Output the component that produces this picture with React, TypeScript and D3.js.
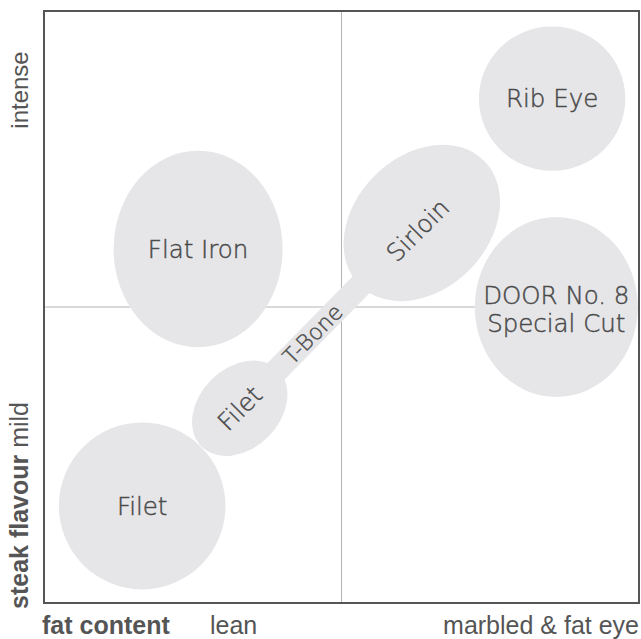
import * as d3 from "d3";
import { useEffect, useRef } from "react";

// steak cuts, placed by fat content (x) and flavour (y), 0..10 scale
const cutNames = ["Rib Eye", "Flat Iron", "Sirloin", "DOOR No. 8|Special Cut", "Filet", "Filet"];
const fatValues = [8.54, 2.59, 6.35, 8.61, 3.29, 1.65];
const flavourValues = [8.52, 5.98, 6.42, 5.0, 3.29, 1.64];
const spreadFat = [1.23, 1.42, 1.48, 1.37, 0.91, 1.4];
const spreadFlavour = [1.22, 1.66, 1.13, 1.52, 0.68, 1.41];
const tilt = [0, 0, -45, 0, -45, 0];
// small nudge of the label from the centre of its shape
const labelShiftFat = [0, 0, -0.07, 0, 0, 0];
const labelShiftFlavour = [0, 0, -0.12, 0, 0, 0];

// T-Bone joins the small filet and the sirloin
const bridgeName = "T-Bone";
const bridgeFrom = 4;
const bridgeTo = 2;
const bridgeLabelAt = 0.4;

const xAxisTitle = "fat content";
const xAxisEnds = ["lean", "marbled & fat eye"];
const yAxisTitle = "steak flavour";
const yAxisEnds = ["mild", "intense"];

const W = 641;
const H = 639;

function SteakChart() {
    const ref = useRef<SVGSVGElement>(null);

    useEffect(() => {
        const svg = d3.select(ref.current);
        svg.selectAll("*").remove();

        const margin = { top: 11, right: 2, bottom: 36, left: 44 };
        const x = d3.scaleLinear().domain([0, 10]).range([margin.left, W - margin.right]);
        const y = d3.scaleLinear().domain([0, 10]).range([H - margin.bottom, margin.top]);
        const fill = "#e6e6e8";
        const textColor = "#4a4a4a";
        const labelFont = "'DejaVu Sans', Verdana, sans-serif";
        const axisFont = "'Liberation Sans', Arial, sans-serif";

        // quadrant lines
        svg.append("line")
            .attr("x1", x(5)).attr("x2", x(5))
            .attr("y1", y(0)).attr("y2", y(10))
            .attr("stroke", "#b4b4b4").attr("stroke-width", 1);
        svg.append("line")
            .attr("x1", x(0)).attr("x2", x(10))
            .attr("y1", y(5)).attr("y2", y(5))
            .attr("stroke", "#b4b4b4").attr("stroke-width", 1);

        // bridge (T-Bone)
        const bx1 = x(fatValues[bridgeFrom]), by1 = y(flavourValues[bridgeFrom]);
        const bx2 = x(fatValues[bridgeTo]), by2 = y(flavourValues[bridgeTo]);
        svg.append("line")
            .attr("x1", bx1).attr("y1", by1)
            .attr("x2", bx2).attr("y2", by2)
            .attr("stroke", fill)
            .attr("stroke-width", x(0.4) - x(0));

        const idx = d3.range(cutNames.length);

        // ellipses
        svg.selectAll("ellipse.cut")
            .data(idx)
            .join("ellipse")
            .attr("class", "cut")
            .attr("transform", i => `translate(${x(fatValues[i])},${y(flavourValues[i])}) rotate(${tilt[i]})`)
            .attr("rx", i => x(spreadFat[i]) - x(0))
            .attr("ry", i => y(0) - y(spreadFlavour[i]))
            .attr("fill", fill);

        // labels (thin face, thickened a little with a stroke)
        const labels = svg.selectAll("text.cut")
            .data(idx)
            .join("text")
            .attr("class", "cut")
            .attr("transform", i => `translate(${x(fatValues[i] + labelShiftFat[i])},${y(flavourValues[i] + labelShiftFlavour[i])}) rotate(${tilt[i]})`)
            .attr("text-anchor", "middle")
            .attr("font-family", labelFont)
            .attr("font-weight", 200)
            .attr("font-size", 24.5)
            .attr("fill", textColor)
            .attr("stroke", textColor)
            .attr("stroke-width", 0.45);
        labels.each(function (i) {
            const lines = cutNames[i].split("|");
            const t = d3.select(this);
            if (lines.length == 1) {
                t.append("tspan").attr("x", 0).attr("dy", "0.36em").text(lines[0]);
            } else {
                t.append("tspan").attr("x", 0).attr("dy", "-0.13em").text(lines[0]);
                t.append("tspan").attr("x", 0).attr("dy", "1.13em").text(lines[1]);
            }
        });

        // bridge label
        const angle = Math.atan2(by2 - by1, bx2 - bx1) * 180 / Math.PI;
        svg.append("text")
            .attr("transform", `translate(${bx1 + (bx2 - bx1) * bridgeLabelAt},${by1 + (by2 - by1) * bridgeLabelAt}) rotate(${angle})`)
            .attr("text-anchor", "middle")
            .attr("dy", "0.36em")
            .attr("font-family", labelFont)
            .attr("font-weight", 200)
            .attr("font-size", 22)
            .attr("fill", textColor)
            .attr("stroke", textColor)
            .attr("stroke-width", 0.4)
            .text(bridgeName);

        // frame
        svg.append("rect")
            .attr("x", x(0)).attr("y", y(10))
            .attr("width", x(10) - x(0)).attr("height", y(0) - y(10))
            .attr("fill", "none")
            .attr("stroke", "#555")
            .attr("stroke-width", 2);

        // x axis labels
        const xt = svg.append("text")
            .attr("x", x(0) - 2).attr("y", H - 5)
            .attr("font-family", axisFont).attr("font-size", 25).attr("fill", "#555");
        xt.append("tspan").attr("font-weight", "bold").text(xAxisTitle);
        svg.append("text")
            .attr("x", 210).attr("y", H - 5)
            .attr("font-family", axisFont).attr("font-size", 25).attr("fill", "#555")
            .text(xAxisEnds[0]);
        svg.append("text")
            .attr("x", x(10)).attr("y", H - 5)
            .attr("text-anchor", "end")
            .attr("font-family", axisFont).attr("font-size", 25).attr("fill", "#555")
            .text(xAxisEnds[1]);

        // y axis labels
        const yt = svg.append("text")
            .attr("transform", `translate(28,${y(0) + 6}) rotate(-90)`)
            .attr("font-family", axisFont).attr("font-size", 25).attr("fill", "#555");
        yt.append("tspan").attr("font-weight", "bold").text(yAxisTitle + " ");
        yt.append("tspan").text(yAxisEnds[0]);
        svg.append("text")
            .attr("transform", `translate(28,90) rotate(-90)`)
            .attr("text-anchor", "middle")
            .attr("font-family", axisFont).attr("font-size", 24).attr("fill", "#555")
            .text(yAxisEnds[1]);
    }, []);

    return <svg ref={ref} width={W} height={H} style={{ position: "absolute", left: 0, top: 0, background: "#fff" }} />;
}

export default function App() {
    return <SteakChart />;
}
